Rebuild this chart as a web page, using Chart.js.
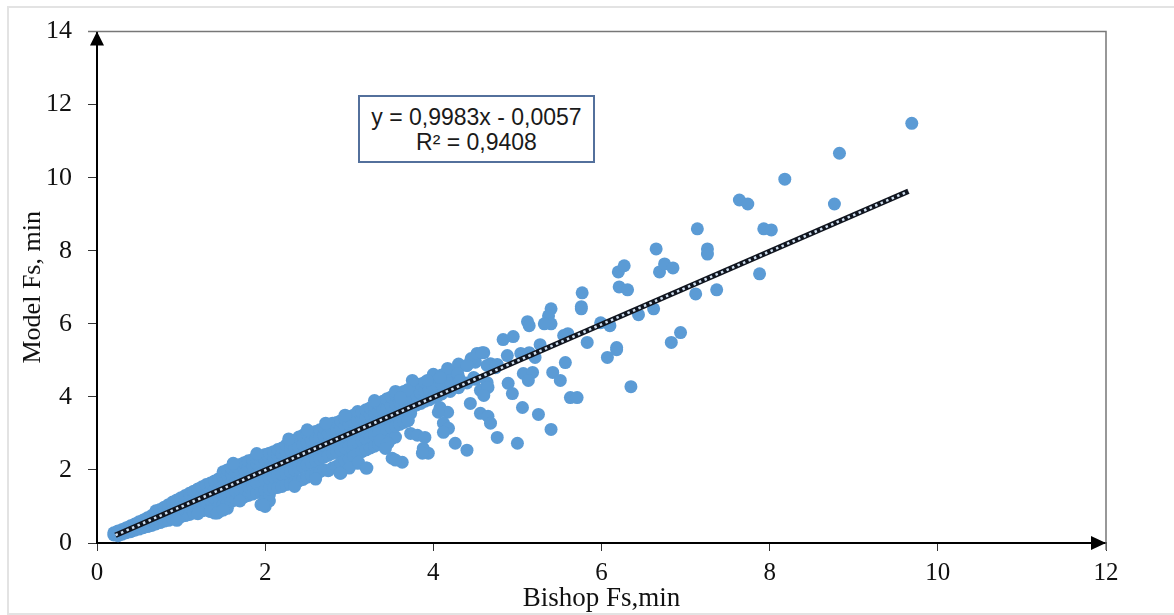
<!DOCTYPE html>
<html>
<head>
<meta charset="utf-8">
<script src="https://cdn.jsdelivr.net/npm/chart.js@4"></script>
<style>
  html, body { margin: 0; padding: 0; background: #fff; }
  #wrap { position: relative; width: 1174px; height: 615px; overflow: hidden; }
  #frame { position: absolute; left: 7px; top: 6px; width: 1200px; height: 605px; border: 2px solid #e3e3e3; pointer-events: none; }
  #eq { position: absolute; left: 358px; top: 95px; width: 237px; height: 68px; box-sizing: border-box;
        border: 2px solid #53709c; font-family: "Liberation Sans", Arial, sans-serif; font-size: 23px;
        line-height: 25px; text-align: center; color: #1a1a1a; padding-top: 8px; background: #fff; }
</style>
</head>
<body>
<div id="wrap">
  <canvas id="scatterChart" width="1174" height="615"></canvas>
  <div id="frame"></div>
  <div id="eq">y = 0,9983x - 0,0057<br>R² = 0,9408</div>
</div>
<script>
// Dense band: one Bishop Fs column, several Model Fs values each
const bandX = [0.20, 0.25, 0.30, 0.35, 0.40, 0.45, 0.50, 0.55, 0.60, 0.65,
               0.70, 0.75, 0.80, 0.85, 0.90, 0.95, 1.00, 1.05, 1.10, 1.15,
               1.20, 1.25, 1.30, 1.35, 1.40, 1.45, 1.50, 1.55, 1.60, 1.65,
               1.70, 1.75, 1.80, 1.85, 1.90, 1.95, 2.00, 2.05, 2.10, 2.15,
               2.20, 2.25, 2.30, 2.35, 2.40, 2.45, 2.50, 2.55, 2.60, 2.65,
               2.70, 2.75, 2.80, 2.85, 2.90, 2.95, 3.00, 3.05, 3.10, 3.15,
               3.20, 3.25, 3.30, 3.35, 3.40, 3.45, 3.50, 3.55, 3.60, 3.65,
               3.70, 3.75, 3.80, 3.85, 3.90, 3.95, 4.00, 4.05, 4.10, 4.20,
               4.30, 4.40, 4.50];
const bandY = [
  [0.22, 0.28], [0.20, 0.27, 0.33], [0.24, 0.30, 0.37], [0.28, 0.35, 0.42], [0.31, 0.40, 0.47],
  [0.35, 0.44, 0.52], [0.38, 0.48, 0.58], [0.42, 0.53, 0.63], [0.45, 0.57, 0.69], [0.48, 0.62, 0.75],
  [0.52, 0.66, 0.80, 0.88], [0.56, 0.70, 0.84, 0.92], [0.60, 0.75, 0.90, 0.98], [0.62, 0.79, 0.94, 1.05], [0.66, 0.83, 0.99, 1.12],
  [0.70, 0.87, 1.04, 1.18], [0.72, 0.90, 1.08, 1.24], [0.75, 0.95, 1.13, 1.30], [0.78, 0.98, 1.18, 1.36], [0.82, 1.02, 1.22, 1.42],
  [0.85, 1.06, 1.27, 1.48], [0.88, 1.10, 1.32, 1.54], [0.90, 1.14, 1.36, 1.60], [0.93, 1.18, 1.40, 1.64], [0.82, 0.98, 1.22, 1.45, 1.70],
  [0.85, 1.02, 1.26, 1.50, 1.76], [1.05, 1.30, 1.55, 1.82, 1.95], [1.10, 1.34, 1.60, 1.86, 2.00], [1.14, 1.38, 1.64, 1.90, 2.05], [1.18, 1.42, 1.68, 1.95, 2.10],
  [1.22, 1.46, 1.72, 2.00, 2.15], [1.26, 1.50, 1.77, 2.04, 2.20], [1.30, 1.55, 1.82, 2.08, 2.25], [1.34, 1.60, 1.87, 2.12, 2.28], [1.38, 1.64, 1.92, 2.18, 2.33],
  [1.05, 1.40, 1.68, 1.96, 2.22, 2.38], [1.00, 1.20, 1.44, 1.72, 2.00, 2.26, 2.42], [1.15, 1.32, 1.48, 1.76, 2.05, 2.30, 2.46], [1.50, 1.80, 2.10, 2.36, 2.50], [1.52, 1.84, 2.14, 2.40, 2.56],
  [1.55, 1.88, 2.20, 2.45, 2.60], [1.60, 1.90, 2.24, 2.50, 2.68], [1.62, 1.95, 2.28, 2.55, 2.75], [1.66, 2.00, 2.33, 2.60, 2.80], [1.70, 2.05, 2.38, 2.65, 2.90],
  [1.74, 2.10, 2.42, 2.70, 2.95], [1.80, 2.15, 2.48, 2.75, 3.00], [1.85, 2.20, 2.52, 2.80, 3.02], [1.90, 2.25, 2.58, 2.85, 3.05], [1.95, 2.30, 2.62, 2.90, 3.10],
  [2.00, 2.35, 2.68, 2.95, 3.15], [1.98, 2.40, 2.72, 3.00, 3.20], [2.05, 2.45, 2.78, 3.05, 3.28], [2.10, 2.50, 2.82, 3.10, 3.30], [1.91, 2.20, 2.55, 2.88, 3.15, 3.35],
  [2.25, 2.60, 2.92, 3.20, 3.40], [2.30, 2.65, 2.98, 3.25, 3.45], [2.38, 2.70, 3.02, 3.30, 3.50], [2.18, 2.45, 2.75, 3.08, 3.35, 3.60], [2.50, 2.80, 3.12, 3.40, 3.58],
  [2.05, 2.55, 2.85, 3.18, 3.45, 3.65], [2.60, 2.90, 3.22, 3.50, 3.70], [2.65, 2.95, 3.28, 3.55, 3.75], [2.70, 3.00, 3.32, 3.60, 3.80], [2.75, 3.05, 3.38, 3.65, 3.88],
  [2.80, 3.10, 3.42, 3.70, 3.95], [2.85, 3.15, 3.48, 3.75, 4.00], [2.90, 3.20, 3.52, 3.80, 4.05], [3.25, 3.58, 3.85, 4.10], [3.30, 3.62, 3.90, 4.15],
  [3.35, 3.68, 3.95, 4.20], [3.72, 4.00, 4.25], [3.78, 4.05, 4.30], [3.82, 4.10, 4.35], [3.88, 4.15, 4.40],
  [3.92, 4.20, 4.45], [3.98, 4.25, 4.50], [4.02, 4.30, 4.55], [4.08, 4.35, 4.60], [4.15, 4.45, 4.70],
  [4.25, 4.55, 4.80], [4.38, 4.86], [4.48, 4.95]
];

// Ragged points along the band edges
const edgeX = [1.62, 1.90, 2.28, 2.50, 2.72, 2.95, 3.30, 3.55, 3.75, 4.00, 4.30, 4.45,
               1.20, 1.55, 1.70, 2.35, 2.60, 3.00, 0.95, 1.35];
const edgeY = [2.18, 2.45, 2.85, 3.10, 3.28, 3.50, 3.90, 4.15, 4.45, 4.62, 4.90, 5.05,
               0.80, 0.95, 1.15, 1.55, 1.75, 2.05, 0.62, 0.86];

// Scattered points away from the band
const spreadX = [9.69, 8.83, 8.18, 7.64, 7.74, 8.77, 7.14, 7.93, 8.02, 6.65,
                 7.26, 7.26, 6.20, 6.27, 6.69, 6.75, 6.85, 6.21, 6.31, 7.12,
                 7.37, 7.88, 6.44, 6.62, 5.99, 6.10, 6.83, 6.94, 6.18, 6.35,
                 6.07, 6.18, 5.77, 5.76, 5.76, 5.40, 5.37, 5.40, 5.32, 5.12,
                 5.14, 4.83, 4.95, 5.55, 5.60, 5.27, 5.83, 4.60, 4.88, 5.04,
                 5.14, 5.21, 4.68, 4.76, 5.07, 5.18, 5.13, 5.42, 5.57, 5.51,
                 4.64, 4.60, 4.89, 4.94, 5.63, 5.71, 4.56, 4.65, 4.68, 5.06,
                 5.25, 5.40, 4.76, 5.00, 4.52, 4.58, 4.17, 4.40, 4.29, 4.64,
                 4.74, 3.93, 4.08, 4.32, 4.48, 3.69, 3.61, 4.56, 4.65, 4.60,
                 4.44, 4.08, 4.17, 4.06, 3.73, 3.70, 4.12, 4.18, 4.12, 3.73,
                 3.81, 3.90, 3.37, 3.46, 3.43, 3.88, 3.94, 3.87, 4.26, 4.40,
                 3.51, 3.63, 3.55, 3.11, 3.21, 2.89, 1.98, 1.43, 1.50];
const spreadY = [11.49, 10.67, 9.96, 9.39, 9.28, 9.28, 8.60, 8.60, 8.57, 8.05,
                 8.05, 7.91, 7.42, 7.59, 7.42, 7.64, 7.53, 7.01, 6.93, 6.82,
                 6.93, 7.37, 6.25, 6.41, 6.03, 5.95, 5.49, 5.76, 5.35, 4.28,
                 5.08, 5.29, 6.85, 6.47, 6.41, 6.41, 6.22, 6.00, 6.00, 6.06,
                 5.95, 5.57, 5.65, 5.68, 5.73, 5.43, 5.49, 5.21, 5.13, 5.19,
                 5.21, 5.08, 4.91, 4.89, 4.64, 4.67, 4.45, 4.67, 4.94, 4.45,
                 4.39, 4.12, 4.37, 4.09, 3.98, 3.98, 3.55, 3.47, 3.28, 3.71,
                 3.52, 3.11, 2.89, 2.73, 5.19, 5.21, 4.78, 4.86, 4.64, 4.86,
                 4.80, 4.45, 4.53, 4.45, 4.53, 4.18, 3.98, 4.18, 4.26, 4.04,
                 3.82, 3.71, 3.58, 3.58, 3.55, 3.36, 3.28, 3.14, 3.03, 3.00,
                 2.95, 2.89, 2.81, 2.73, 2.59, 2.59, 2.46, 2.46, 2.73, 2.54,
                 2.32, 2.21, 2.27, 2.21, 2.05, 1.91, 1.04, 0.82, 0.90];

// Linear trend ends
const trendX = [0.22, 9.65];
const trendY = [0.214, 9.628];

const points = [];
bandX.forEach((x, i) => bandY[i].forEach(y => points.push({ x: x, y: y })));
edgeX.forEach((x, i) => points.push({ x: x, y: edgeY[i] }));
spreadX.forEach((x, i) => points.push({ x: x, y: spreadY[i] }));
const trend = trendX.map((x, i) => ({ x: x, y: trendY[i] }));

const serif = '"Liberation Serif", "Times New Roman", serif';

// Frame lines and axis arrows
const axisDecor = {
    id: 'axisDecor',
    afterDraw(chart) {
        const { ctx, chartArea: a } = chart;
        ctx.save();
        ctx.strokeStyle = '#777';
        ctx.lineWidth = 1.5;
        ctx.beginPath();
        ctx.moveTo(a.left - 9, a.top);
        ctx.lineTo(a.right, a.top);
        ctx.lineTo(a.right, a.bottom + 7);
        ctx.stroke();
        ctx.fillStyle = '#000';
        ctx.beginPath();
        ctx.moveTo(a.left, a.top);
        ctx.lineTo(a.left - 7, a.top + 14);
        ctx.lineTo(a.left + 7, a.top + 14);
        ctx.closePath();
        ctx.fill();
        ctx.beginPath();
        ctx.moveTo(a.right, a.bottom);
        ctx.lineTo(a.right - 15, a.bottom - 7);
        ctx.lineTo(a.right - 15, a.bottom + 7);
        ctx.closePath();
        ctx.fill();
        ctx.restore();
    }
};

new Chart(document.getElementById('scatterChart'), {
    type: 'scatter',
    data: {
        datasets: [
            {
                label: 'Trend dash',
                type: 'line',
                data: trend,
                borderColor: '#cfdff0',
                borderWidth: 2.5,
                borderDash: [2.5, 3.5],
                pointRadius: 0,
                fill: false,
                order: 1
            },
            {
                label: 'Trend',
                type: 'line',
                data: trend,
                borderColor: '#10151f',
                borderWidth: 5.5,
                pointRadius: 0,
                fill: false,
                order: 2
            },
            {
                label: 'Model Fs',
                data: points,
                backgroundColor: '#5b9bd5',
                borderWidth: 0,
                pointRadius: 6.5,
                pointHoverRadius: 6.5,
                order: 3
            }
        ]
    },
    options: {
        responsive: false,
        animation: false,
        layout: { padding: { left: 0, top: 30, right: 68, bottom: 0 } },
        plugins: {
            legend: { display: false },
            tooltip: { enabled: false }
        },
        scales: {
            x: {
                type: 'linear',
                min: 0,
                max: 12,
                ticks: { stepSize: 2, color: '#111', font: { family: serif, size: 25 }, padding: 7 },
                grid: { drawOnChartArea: false, tickLength: 8, color: '#333', lineWidth: 1 },
                border: { color: '#000', width: 2 },
                title: {
                    display: true,
                    text: 'Bishop Fs,min',
                    color: '#111',
                    font: { family: serif, size: 27 },
                    padding: { top: 0, bottom: 0 }
                },
                afterFit(scale) { scale.height = 72; }
            },
            y: {
                min: 0,
                max: 14,
                ticks: { stepSize: 2, color: '#111', font: { family: serif, size: 26 }, padding: 16 },
                grid: { drawOnChartArea: false, tickLength: 9, color: '#333', lineWidth: 1 },
                border: { color: '#000', width: 2 },
                title: {
                    display: true,
                    text: 'Model Fs, min',
                    color: '#111',
                    font: { family: serif, size: 26 },
                    padding: { top: 18, bottom: 0 }
                },
                afterFit(scale) { scale.width = 97; }
            }
        }
    },
    plugins: [axisDecor]
});
</script>
</body>
</html>
